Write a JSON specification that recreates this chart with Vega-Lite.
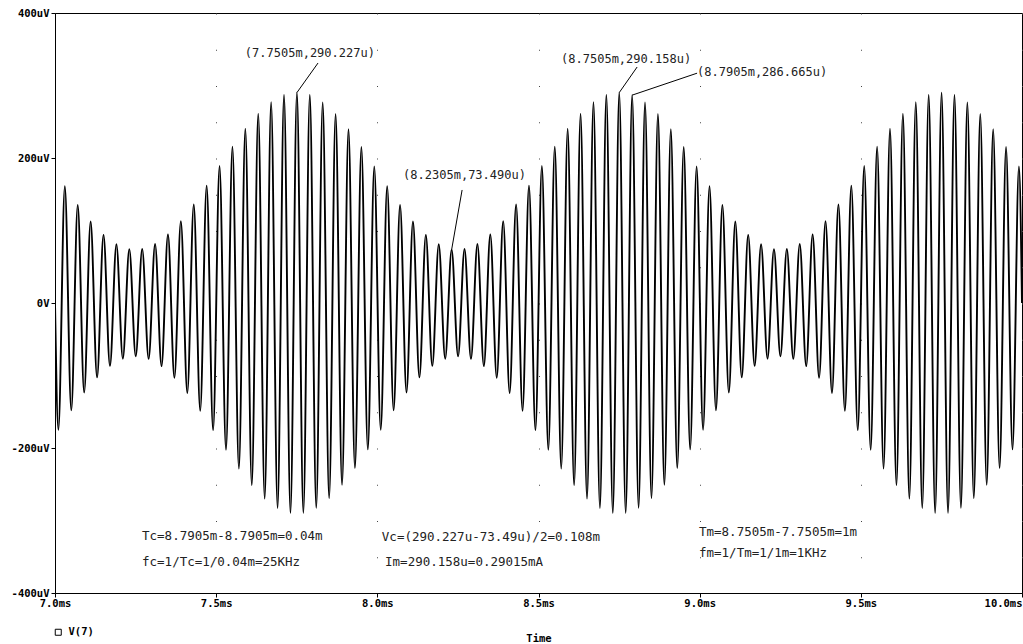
{
  "$schema": "https://vega.github.io/schema/vega-lite/v6.json",
  "width": 967,
  "height": 580,
  "autosize": {"type": "none"},
  "padding": {"left": 55, "top": 13, "right": 1, "bottom": 51},
  "background": "#ffffff",
  "config": {
    "view": {"stroke": "#000000", "strokeWidth": 1},
    "axis": {
      "labelFont": "DejaVu Sans Mono", "labelFontWeight": "bold", "labelFontSize": 10.5, "labelColor": "#000000",
      "domainColor": "#000000", "tickColor": "#000000", "tickSize": 4,
      "titleFont": "DejaVu Sans Mono", "titleFontWeight": "bold", "titleFontSize": 10.5, "titleColor": "#000000"
    }
  },
  "layer": [
    {
      "data": {"values": [
        {"t":7.0,"v":0},
        {"t":7.0105,"v":-174.8},{"t":7.0305,"v":161.2},{"t":7.0505,"v":-148.1},{"t":7.0705,"v":135.4},{"t":7.0905,"v":-123.5},
        {"t":7.1105,"v":112.5},{"t":7.1305,"v":-102.6},{"t":7.1505,"v":94.0},{"t":7.1705,"v":-86.7},{"t":7.1905,"v":81.0},
        {"t":7.2105,"v":-76.8},{"t":7.2305,"v":74.3},{"t":7.2505,"v":-73.5},{"t":7.2705,"v":74.4},{"t":7.2905,"v":-77.0},
        {"t":7.3105,"v":81.3},{"t":7.3305,"v":-87.1},{"t":7.3505,"v":94.4},{"t":7.3705,"v":-103.1},{"t":7.3905,"v":113.0},
        {"t":7.4105,"v":-124.1},{"t":7.4305,"v":136.1},{"t":7.4505,"v":-148.7},{"t":7.4705,"v":161.9},{"t":7.4905,"v":-175.4},
        {"t":7.5105,"v":189.0},{"t":7.5305,"v":-202.6},{"t":7.5505,"v":215.7},{"t":7.5705,"v":-228.4},{"t":7.5905,"v":240.3},
        {"t":7.6105,"v":-251.3},{"t":7.6305,"v":261.2},{"t":7.6505,"v":-269.8},{"t":7.6705,"v":277.1},{"t":7.6905,"v":-282.8},
        {"t":7.7105,"v":287.0},{"t":7.7305,"v":-289.5},{"t":7.7505,"v":290.2},{"t":7.7705,"v":-289.4},{"t":7.7905,"v":286.8},
        {"t":7.8105,"v":-282.5},{"t":7.8305,"v":276.7},{"t":7.8505,"v":-269.4},{"t":7.8705,"v":260.7},{"t":7.8905,"v":-250.8},
        {"t":7.9105,"v":239.7},{"t":7.9305,"v":-227.7},{"t":7.9505,"v":215.1},{"t":7.9705,"v":-201.9},{"t":7.9905,"v":188.4},
        {"t":8.0105,"v":-174.8},{"t":8.0305,"v":161.2},{"t":8.0505,"v":-148.1},{"t":8.0705,"v":135.4},{"t":8.0905,"v":-123.5},
        {"t":8.1105,"v":112.5},{"t":8.1305,"v":-102.6},{"t":8.1505,"v":94.0},{"t":8.1705,"v":-86.7},{"t":8.1905,"v":81.0},
        {"t":8.2105,"v":-76.8},{"t":8.2305,"v":73.5},{"t":8.2505,"v":-73.5},{"t":8.2705,"v":74.4},{"t":8.2905,"v":-77.0},
        {"t":8.3105,"v":81.3},{"t":8.3305,"v":-87.1},{"t":8.3505,"v":94.4},{"t":8.3705,"v":-103.1},{"t":8.3905,"v":113.0},
        {"t":8.4105,"v":-124.1},{"t":8.4305,"v":136.1},{"t":8.4505,"v":-148.7},{"t":8.4705,"v":161.9},{"t":8.4905,"v":-175.4},
        {"t":8.5105,"v":189.0},{"t":8.5305,"v":-202.6},{"t":8.5505,"v":215.7},{"t":8.5705,"v":-228.4},{"t":8.5905,"v":240.3},
        {"t":8.6105,"v":-251.3},{"t":8.6305,"v":261.2},{"t":8.6505,"v":-269.8},{"t":8.6705,"v":277.1},{"t":8.6905,"v":-282.8},
        {"t":8.7105,"v":287.0},{"t":8.7305,"v":-289.5},{"t":8.7505,"v":290.2},{"t":8.7705,"v":-289.4},{"t":8.7905,"v":286.7},
        {"t":8.8105,"v":-282.5},{"t":8.8305,"v":276.7},{"t":8.8505,"v":-269.4},{"t":8.8705,"v":260.7},{"t":8.8905,"v":-250.8},
        {"t":8.9105,"v":239.7},{"t":8.9305,"v":-227.7},{"t":8.9505,"v":215.1},{"t":8.9705,"v":-201.9},{"t":8.9905,"v":188.4},
        {"t":9.0105,"v":-174.8},{"t":9.0305,"v":161.2},{"t":9.0505,"v":-148.1},{"t":9.0705,"v":135.4},{"t":9.0905,"v":-123.5},
        {"t":9.1105,"v":112.5},{"t":9.1305,"v":-102.6},{"t":9.1505,"v":94.0},{"t":9.1705,"v":-86.7},{"t":9.1905,"v":81.0},
        {"t":9.2105,"v":-76.8},{"t":9.2305,"v":74.3},{"t":9.2505,"v":-73.5},{"t":9.2705,"v":74.4},{"t":9.2905,"v":-77.0},
        {"t":9.3105,"v":81.3},{"t":9.3305,"v":-87.1},{"t":9.3505,"v":94.4},{"t":9.3705,"v":-103.1},{"t":9.3905,"v":113.0},
        {"t":9.4105,"v":-124.1},{"t":9.4305,"v":136.1},{"t":9.4505,"v":-148.7},{"t":9.4705,"v":161.9},{"t":9.4905,"v":-175.4},
        {"t":9.5105,"v":189.0},{"t":9.5305,"v":-202.6},{"t":9.5505,"v":215.7},{"t":9.5705,"v":-228.4},{"t":9.5905,"v":240.3},
        {"t":9.6105,"v":-251.3},{"t":9.6305,"v":261.2},{"t":9.6505,"v":-269.8},{"t":9.6705,"v":277.1},{"t":9.6905,"v":-282.8},
        {"t":9.7105,"v":287.0},{"t":9.7305,"v":-289.5},{"t":9.7505,"v":290.1},{"t":9.7705,"v":-289.4},{"t":9.7905,"v":286.8},
        {"t":9.8105,"v":-282.5},{"t":9.8305,"v":276.7},{"t":9.8505,"v":-269.4},{"t":9.8705,"v":260.7},{"t":9.8905,"v":-250.8},
        {"t":9.9105,"v":239.7},{"t":9.9305,"v":-227.7},{"t":9.9505,"v":215.1},{"t":9.9705,"v":-201.9},{"t":9.9905,"v":188.4},
        {"t":10.0,"v":0}
      ]},
      "mark": {"type": "line", "interpolate": "monotone", "strokeWidth": 1.9, "clip": true},
      "encoding": {
        "x": {
          "field": "t", "type": "quantitative",
          "scale": {"domain": [7, 10], "nice": false, "zero": false},
          "axis": {
            "title": "Time", "values": [7, 7.5, 8, 8.5, 9, 9.5, 10],
            "labelExpr": "format(datum.value, '.1f') + 'ms'",
            "labelAlign": {"condition": {"test": "datum.value >= 10", "value": "right"}, "value": "center"},
            "labelPadding": 1, "titlePadding": 25,
            "grid": true, "gridDash": [1, 35.25], "gridColor": "#444444", "gridWidth": 1
          }
        },
        "y": {
          "field": "v", "type": "quantitative",
          "scale": {"domain": [-400, 400], "nice": false},
          "axis": {
            "title": null, "values": [-400, -200, 0, 200, 400],
            "labelExpr": "datum.value == 0 ? '0V' : datum.value + 'uV'",
            "labelPadding": 2, "grid": false
          }
        },
        "color": {
          "datum": "V(7)",
          "scale": {"range": ["#000000"]},
          "legend": {
            "title": null, "orient": "none", "legendX": -2, "legendY": 614, "padding": 0,
            "symbolType": "square", "symbolSize": 36, "symbolFillColor": "#ffffff", "symbolStrokeColor": "#000000",
            "symbolStrokeWidth": 1, "labelFont": "DejaVu Sans Mono", "labelFontWeight": "bold", "labelFontSize": 10.5,
            "labelColor": "#000000", "labelOffset": 5
          }
        }
      }
    },
    {
      "data": {"values": [
        {"t": 7.7505, "v": 290.2, "t2": 7.816, "v2": 331},
        {"t": 8.7505, "v": 290.2, "t2": 8.806, "v2": 325.5},
        {"t": 8.7905, "v": 286.7, "t2": 8.992, "v2": 317},
        {"t": 8.2305, "v": 73.5, "t2": 8.263, "v2": 155.9}
      ]},
      "mark": {"type": "rule", "color": "#000000", "strokeWidth": 1},
      "encoding": {
        "x": {"field": "t", "type": "quantitative"},
        "y": {"field": "v", "type": "quantitative"},
        "x2": {"field": "t2"},
        "y2": {"field": "v2"}
      }
    },
    {
      "data": {"values": [
        {"t": 7.589, "v": 344.8, "label": "(7.7505m,290.227u)"},
        {"t": 8.570, "v": 336.6, "label": "(8.7505m,290.158u)"},
        {"t": 8.992, "v": 318.6, "label": "(8.7905m,286.665u)"},
        {"t": 8.080, "v": 176.6, "label": "(8.2305m,73.490u)"}
      ]},
      "mark": {"type": "text", "align": "left", "baseline": "middle", "font": "DejaVu Sans Mono", "fontSize": 12, "color": "#222222"},
      "encoding": {
        "x": {"field": "t", "type": "quantitative"},
        "y": {"field": "v", "type": "quantitative"},
        "text": {"field": "label"}
      }
    },
    {
      "data": {"values": [
        {"t": 7.270, "v": -321, "label": "Tc=8.7905m-8.7905m=0.04m"},
        {"t": 7.270, "v": -357, "label": "fc=1/Tc=1/0.04m=25KHz"},
        {"t": 8.014, "v": -323, "label": "Vc=(290.227u-73.49u)/2=0.108m"},
        {"t": 8.024, "v": -357, "label": "Im=290.158u=0.29015mA"},
        {"t": 8.998, "v": -316, "label": "Tm=8.7505m-7.7505m=1m"},
        {"t": 8.998, "v": -345, "label": "fm=1/Tm=1/1m=1KHz"}
      ]},
      "mark": {"type": "text", "align": "left", "baseline": "middle", "font": "DejaVu Sans Mono", "fontSize": 12.5, "color": "#222222"},
      "encoding": {
        "x": {"field": "t", "type": "quantitative"},
        "y": {"field": "v", "type": "quantitative"},
        "text": {"field": "label"}
      }
    }
  ]
}
